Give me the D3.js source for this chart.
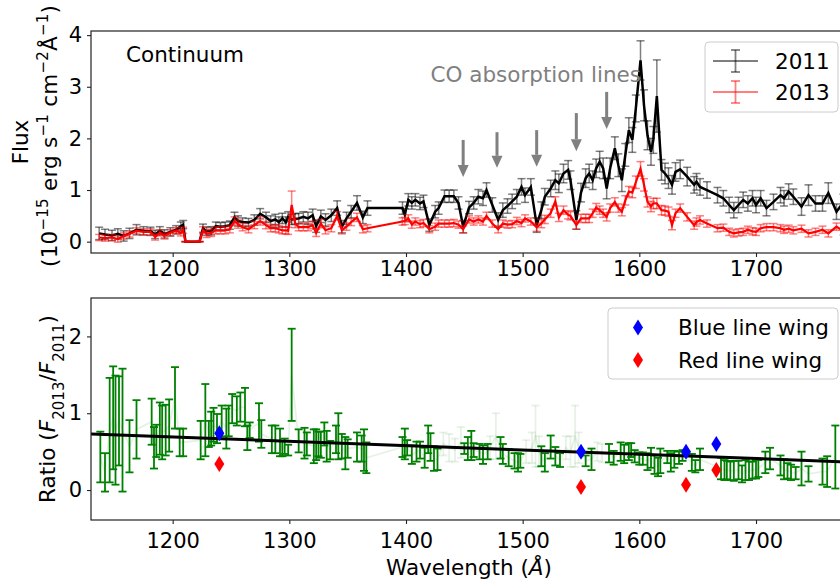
<!DOCTYPE html>
<html>
<head>
<meta charset="utf-8">
<script src="https://cdn.jsdelivr.net/npm/d3@7"></script>
<style>
  body { margin: 0; background: #fff; }
  svg { display: block; font-family: "DejaVu Sans", sans-serif; }
</style>
</head>
<body>
<svg id="chart" width="840" height="579"></svg>
<script>
// ---- data ----
var wave = [1137,1142,1148,1153,1158,1163,1169,1175,1181,1185,
  1189,1193,1198,1203,1207,1209,1211,1223,1226,1229,
  1233,1237,1241,1245,1249,1253,1256,1260,1265,1270,
  1275,1280,1284,1288,1291,1294,1297,1299,1302,1305,
  1308,1312,1316,1320,1323,1327,1331,1336,1341,1345,
  1349,1353,1358,1363,1367,1397,1399,1402,1405,1408,
  1412,1415,1420,1425,1428,1433,1437,1441,1445,1449,
  1454,1458,1462,1466,1469,1474,1479,1483,1487,1491,
  1495,1499,1502,1507,1512,1516,1519,1524,1528,1531,
  1535,1539,1541,1546,1550,1554,1557,1560,1563,1566,
  1569,1572,1575,1579,1582,1585,1588,1591,1594,1597,
  1601,1604,1607,1610,1612,1615,1619,1622,1625,1628,
  1631,1635,1641,1647,1649,1652,1658,1667,1672,1677,
  1681,1685,1689,1693,1697,1700,1704,1709,1715,1721,
  1724,1728,1732,1739,1745,1751,1757,1762,1769,1775];

var flux2011 = [0.16,0.14,0.12,0.15,0.11,0.16,0.23,0.21,0.20,0.14,
  0.21,0.15,0.19,0.23,0.30,0.33,0,0,0.26,0.20,
  0.21,0.30,0.29,0.30,0.32,0.47,0.40,0.38,0.37,0.42,
  0.54,0.47,0.40,0.43,0.38,0.45,0.38,0.48,0.43,0.44,
  0.45,0.48,0.45,0.51,0.30,0.49,0.42,0.51,0.65,0.29,
  0.45,0.58,0.75,0.47,0.65,0.65,0.52,0.81,0.75,0.81,
  0.74,0.78,0.32,0.58,0.65,0.88,0.88,0.88,0.75,0.29,
  0.66,0.75,0.87,0.84,1.00,0.71,0.42,0.61,0.69,0.78,
  0.87,1.06,0.90,1.06,0.32,0.61,0.87,1.03,1.19,1.13,
  1.32,1.39,1.19,0.42,0.95,1.23,1.32,1.19,1.42,1.55,
  1.42,1.03,1.42,1.81,1.48,1.19,1.68,2.16,1.97,2.58,
  3.51,2.64,2.06,1.74,1.97,2.82,1.39,1.32,1.23,1.10,
  1.35,1.40,1.26,1.10,1.16,1.06,1.00,0.90,0.84,0.71,
  0.61,0.71,0.81,0.74,0.84,0.71,0.84,0.65,0.77,0.90,
  0.84,0.97,0.87,0.68,0.90,0.74,0.74,0.94,0.58,0.77];

var err2011 = [0.12,0.10,0.10,0.10,0.10,0.10,0.10,0.08,0.08,0.08,
  0.08,0.08,0.08,0.08,0.08,0.08,0,0,0.08,0.08,
  0.08,0.08,0.08,0.08,0.08,0.10,0.10,0.08,0.08,0.10,
  0.10,0.10,0.10,0.10,0.10,0.10,0.10,0.10,0.10,0.10,
  0.10,0.10,0.12,0.12,0.12,0.12,0.12,0.12,0.14,0.12,
  0.12,0.12,0.14,0.12,0.14,0.12,0.12,0.12,0.12,0.12,
  0.12,0.12,0.12,0.12,0.12,0.12,0.12,0.12,0.12,0.12,
  0.12,0.12,0.14,0.14,0.14,0.14,0.14,0.14,0.14,0.14,
  0.14,0.16,0.14,0.16,0.14,0.16,0.16,0.16,0.18,0.18,
  0.18,0.18,0.18,0.18,0.18,0.18,0.18,0.18,0.18,0.20,
  0.20,0.20,0.20,0.22,0.22,0.22,0.22,0.24,0.24,0.26,
  0.38,0.30,0.28,0.26,0.26,0.70,0.20,0.20,0.20,0.18,
  0.18,0.18,0.18,0.16,0.16,0.16,0.16,0.15,0.15,0.15,
  0.15,0.15,0.15,0.15,0.15,0.15,0.15,0.15,0.15,0.15,
  0.15,0.15,0.15,0.17,0.20,0.15,0.15,0.20,0.15,0.15];

var flux2013 = [0.08,0.07,0.08,0.05,0.11,0.15,0.21,0.19,0.19,0.09,
  0.17,0.11,0.17,0.21,0.17,0.22,0,0,0.22,0.15,
  0.17,0.22,0.22,0.22,0.24,0.40,0.34,0.28,0.24,0.32,
  0.40,0.32,0.26,0.26,0.24,0.22,0.22,0.21,0.71,0.35,
  0.28,0.28,0.28,0.32,0.17,0.35,0.22,0.26,0.50,0.22,
  0.29,0.38,0.47,0.24,0.26,0.39,0.40,0.45,0.33,0.39,
  0.34,0.36,0.24,0.29,0.35,0.35,0.35,0.36,0.33,0.24,
  0.43,0.39,0.43,0.39,0.50,0.35,0.24,0.35,0.33,0.34,
  0.40,0.36,0.45,0.39,0.28,0.35,0.43,0.55,0.78,0.47,
  0.61,0.52,0.50,0.32,0.45,0.45,0.45,0.55,0.66,0.61,
  0.55,0.48,0.65,0.77,0.65,0.58,0.80,0.97,0.95,1.15,
  1.41,1.10,0.77,0.68,0.74,0.74,0.61,0.60,0.58,0.32,
  0.55,0.65,0.48,0.32,0.38,0.42,0.35,0.26,0.27,0.19,
  0.16,0.18,0.19,0.23,0.20,0.19,0.26,0.28,0.28,0.26,
  0.23,0.25,0.22,0.25,0.16,0.19,0.23,0.16,0.29,0.20];

var err2013 = [0.06,0.06,0.06,0.06,0.06,0.06,0.06,0.06,0.06,0.06,
  0.06,0.06,0.06,0.06,0.06,0.06,0,0,0.07,0.07,
  0.07,0.07,0.07,0.07,0.07,0.08,0.08,0.07,0.07,0.07,
  0.08,0.07,0.07,0.07,0.07,0.07,0.07,0.07,0.27,0.08,
  0.07,0.07,0.07,0.07,0.07,0.08,0.07,0.07,0.08,0.07,
  0.07,0.07,0.08,0.07,0.07,0.07,0.07,0.07,0.07,0.07,
  0.07,0.07,0.07,0.07,0.07,0.07,0.07,0.07,0.07,0.07,
  0.07,0.07,0.07,0.07,0.07,0.07,0.07,0.07,0.07,0.07,
  0.07,0.07,0.07,0.07,0.08,0.08,0.08,0.08,0.09,0.08,
  0.08,0.08,0.08,0.08,0.08,0.08,0.08,0.08,0.08,0.08,
  0.08,0.08,0.08,0.08,0.08,0.08,0.09,0.10,0.10,0.12,
  0.14,0.12,0.10,0.10,0.10,0.10,0.09,0.09,0.09,0.09,
  0.08,0.08,0.08,0.08,0.08,0.08,0.07,0.07,0.07,0.07,
  0.07,0.07,0.07,0.07,0.07,0.07,0.07,0.07,0.07,0.07,
  0.07,0.07,0.07,0.07,0.07,0.07,0.07,0.07,0.07,0.07];

// ratio F2013/F2011 (points kept in the fit)
var ratioWave = [1138,1142,1146,1149,1151,1154,1157,1163,1169,1182,
  1184,1186,1189,1191,1194,1197,1202,1206,1209,1224,
  1228,1231,1233,1235,1238,1242,1246,1248,1251,1255,
  1258,1262,1264,1266,1274,1276,1285,1288,1292,1294,
  1296,1299,1302,1308,1313,1315,1321,1323,1325,1327,
  1330,1332,1335,1340,1342,1345,1348,1350,1358,1362,
  1364,1366,1397,1399,1401,1405,1409,1412,1416,1419,
  1421,1424,1427,1450,1453,1456,1458,1463,1466,1470,
  1481,1483,1488,1493,1496,1498,1516,1519,1524,1528,
  1532,1554,1559,1574,1578,1584,1587,1591,1593,1596,
  1600,1603,1607,1610,1613,1616,1618,1624,1627,1630,
  1634,1637,1645,1648,1652,1670,1673,1675,1678,1681,
  1685,1688,1691,1694,1697,1700,1702,1708,1712,1721,
  1724,1727,1730,1734,1739,1745,1757,1761,1768];
var ratioVal = [0.43,0.23,0.78,0.94,0.78,0.90,0.78,0.57,0.79,0.89,
  0.55,0.64,0.80,0.75,0.78,0.84,1.20,0.62,0.62,0.65,
  0.91,0.73,0.80,0.85,0.80,0.90,0.80,0.90,1.06,1.03,
  1.08,1.08,0.68,0.78,0.88,0.73,0.66,0.66,0.62,0.54,
  0.57,0.52,1.50,0.64,0.61,0.60,0.57,0.59,0.60,0.59,
  0.73,0.57,0.52,0.66,0.70,0.57,0.48,0.54,0.56,0.54,
  0.52,0.42,0.56,0.60,0.55,0.46,0.50,0.52,0.42,0.66,
  0.56,0.41,0.40,0.54,0.54,0.58,0.52,0.50,0.46,0.50,
  0.55,0.47,0.42,0.38,0.36,0.38,0.44,0.36,0.56,0.44,
  0.39,0.38,0.40,0.48,0.42,0.50,0.47,0.50,0.52,0.44,
  0.41,0.41,0.37,0.42,0.33,0.30,0.38,0.43,0.36,0.40,
  0.42,0.45,0.36,0.31,0.40,0.28,0.26,0.26,0.25,0.25,
  0.26,0.21,0.26,0.25,0.26,0.27,0.28,0.36,0.41,0.32,
  0.27,0.25,0.23,0.22,0.28,0.21,0.24,0.24,0.43];
var ratioErr = [0.33,0.25,0.68,0.67,0.71,0.58,0.80,0.34,0.38,0.30,
  0.27,0.21,0.34,0.35,0.33,0.34,0.40,0.18,0.18,0.25,
  0.47,0.17,0.22,0.22,0.19,0.20,0.26,0.20,0.19,0.19,
  0.19,0.25,0.16,0.10,0.25,0.18,0.18,0.18,0.18,0.10,
  0.10,0.07,0.60,0.15,0.20,0.15,0.22,0.20,0.16,0.17,
  0.15,0.20,0.12,0.18,0.30,0.16,0.21,0.12,0.19,0.17,
  0.27,0.20,0.13,0.20,0.10,0.12,0.13,0.11,0.13,0.18,
  0.18,0.16,0.14,0.07,0.15,0.19,0.09,0.10,0.12,0.10,
  0.14,0.13,0.11,0.10,0.12,0.09,0.13,0.12,0.15,0.12,
  0.09,0.07,0.14,0.12,0.09,0.12,0.12,0.11,0.09,0.08,
  0.08,0.08,0.11,0.13,0.12,0.12,0.16,0.08,0.12,0.11,
  0.08,0.07,0.11,0.08,0.14,0.14,0.13,0.12,0.12,0.13,
  0.12,0.11,0.13,0.12,0.11,0.12,0.11,0.14,0.14,0.13,
  0.13,0.10,0.10,0.08,0.22,0.10,0.17,0.20,0.41];

// ratio points masked out (CO line regions), drawn faint
var maskedWave = [1432,1437,1442,1447,1472,1477,1503,1508,1511,1514,1537,1541,1545,1548,1564,1568];
var maskedVal  = [0.60,0.55,0.52,0.62,0.55,0.70,0.50,0.55,0.70,0.50,0.55,0.50,0.70,0.55,0.50,0.48];
var maskedErr  = [0.15,0.18,0.15,0.20,0.15,0.30,0.15,0.20,0.40,0.20,0.15,0.20,0.40,0.20,0.12,0.12];

// linear fit to the ratio
var fitWave = [1130, 1780];
var fitRatio = [0.73, 0.365];

// emission line wings
var wingWave = [1240, 1550, 1640, 1666];
var blueWing = [0.74, 0.50, 0.50, 0.60];
var redWing  = [0.34, 0.04, 0.07, 0.26];

// CO absorption arrows
var coWave   = [1449, 1478, 1512, 1546, 1572];
var coTop    = [1.97, 2.12, 2.16, 2.49, 2.90];
var coBottom = [1.25, 1.43, 1.45, 1.75, 2.18];

var xTicks = [1200, 1300, 1400, 1500, 1600, 1700];
var yTicksTop = [0, 1, 2, 3, 4];
var yTicksBot = [0, 1, 2];

// ---- layout ----
var svg = d3.select("#chart");
var FS = 21.5;      // labels, legend, annotations
var TFS = 21;       // tick labels
var SFS = 15;       // super/subscripts
var left = 91, right = 847;

var x = d3.scaleLinear().domain([1130, 1778]).range([left, right]);
var yTop = d3.scaleLinear().domain([-0.22, 4.08]).range([253, 31]);
var yBot = d3.scaleLinear().domain([-0.39, 2.5]).range([520, 298]);

function zip(xs, ys) { return xs.map(function(v, i) { return [v, ys[i]]; }); }

function errorBars(g, yScale, xs, ys, es, color, opacity, width, cap) {
  var gg = g.append("g").attr("stroke", color).attr("stroke-opacity", opacity)
      .attr("stroke-width", width).attr("fill", "none");
  xs.forEach(function(xv, i) {
    var px = x(xv), y0 = yScale(ys[i] - es[i]), y1 = yScale(ys[i] + es[i]);
    gg.append("line").attr("x1", px).attr("x2", px).attr("y1", y0).attr("y2", y1);
    gg.append("line").attr("x1", px - cap).attr("x2", px + cap).attr("y1", y0).attr("y2", y0);
    gg.append("line").attr("x1", px - cap).attr("x2", px + cap).attr("y1", y1).attr("y2", y1);
  });
}

function styleAxis(sel) {
  sel.select(".domain").remove();
  sel.selectAll(".tick line").attr("stroke", "#222").attr("stroke-width", 1.1);
  sel.selectAll(".tick text").attr("fill", "#000")
      .style("font-family", "DejaVu Sans").style("font-size", TFS + "px");
}

function axes(yScale, y0, y1, yTicks, xPad) {
  var g = svg.append("g");
  g.append("g")
      .attr("transform", "translate(0," + y1 + ")")
      .call(d3.axisBottom(x).tickValues(xTicks).tickFormat(d3.format("d"))
        .tickSizeOuter(0).tickSize(4).tickPadding(xPad))
      .call(styleAxis);
  g.append("g")
      .attr("transform", "translate(" + left + ",0)")
      .call(d3.axisLeft(yScale).tickValues(yTicks).tickFormat(d3.format("d"))
        .tickSizeOuter(0).tickSize(4).tickPadding(5))
      .call(styleAxis);
  g.append("rect").attr("x", left).attr("y", y0)
      .attr("width", right - left).attr("height", y1 - y0)
      .attr("fill", "none").attr("stroke", "#222").attr("stroke-width", 1.2);
}

var defs = svg.append("defs");
defs.append("clipPath").attr("id", "clipTop")
  .append("rect").attr("x", left).attr("y", 31).attr("width", right - left).attr("height", 222);
defs.append("clipPath").attr("id", "clipBot")
  .append("rect").attr("x", left).attr("y", 298).attr("width", right - left).attr("height", 222);

var line = d3.line().x(function(d) { return x(d[0]); });

// ---- top panel ----
var fluxPanel = svg.append("g").attr("clip-path", "url(#clipTop)");

errorBars(fluxPanel, yTop, wave, flux2011, err2011, "#000", 0.5, 1.5, 4);
fluxPanel.append("path").datum(zip(wave, flux2011))
    .attr("d", line.y(function(d) { return yTop(d[1]); }))
    .attr("fill", "none").attr("stroke", "#000").attr("stroke-width", 2.5);
errorBars(fluxPanel, yTop, wave, flux2013, err2013, "red", 0.5, 1.5, 4);
fluxPanel.append("path").datum(zip(wave, flux2013))
    .attr("d", line.y(function(d) { return yTop(d[1]); }))
    .attr("fill", "none").attr("stroke", "red").attr("stroke-width", 2.2);

// arrows
coWave.forEach(function(w, i) {
  var px = x(w), y0 = yTop(coTop[i]), y1 = yTop(coBottom[i]);
  var head = 12;
  fluxPanel.append("line").attr("x1", px).attr("x2", px).attr("y1", y0).attr("y2", y1 - head)
      .attr("stroke", "#808080").attr("stroke-width", 3);
  fluxPanel.append("path")
      .attr("d", "M" + (px - 5.5) + "," + (y1 - head) + "L" + (px + 5.5) + "," + (y1 - head) + "L" + px + "," + y1 + "Z")
      .attr("fill", "#808080");
});

axes(yTop, 31, 253, yTicksTop, 4);

svg.append("text").attr("x", 126).attr("y", 62).attr("font-size", FS).text("Continuum");
svg.append("text").attr("x", x(1421)).attr("y", 82).attr("font-size", FS)
    .attr("fill", "#808080").text("CO absorption lines");

// legend (top)
var lg = svg.append("g");
lg.append("rect").attr("x", 705).attr("y", 42).attr("width", 133).attr("height", 70)
    .attr("rx", 4).attr("fill", "#fff").attr("fill-opacity", 0.8).attr("stroke", "#ccc");
[["2011", "#000"], ["2013", "red"]].forEach(function(d, i) {
  var cy = 61 + i * 31;
  var e = lg.append("g").attr("stroke", d[1]).attr("stroke-opacity", 0.5).attr("stroke-width", 1.8);
  e.append("line").attr("x1", 713).attr("x2", 758).attr("y1", cy).attr("y2", cy);
  e.append("line").attr("x1", 735.5).attr("x2", 735.5).attr("y1", cy - 11).attr("y2", cy + 11);
  e.append("line").attr("x1", 731).attr("x2", 740).attr("y1", cy - 11).attr("y2", cy - 11);
  e.append("line").attr("x1", 731).attr("x2", 740).attr("y1", cy + 11).attr("y2", cy + 11);
  lg.append("text").attr("x", 775).attr("y", cy + 7.5).attr("font-size", FS).text(d[0]);
});

// ---- bottom panel ----
var ratioPanel = svg.append("g").attr("clip-path", "url(#clipBot)");

var allRatio = zip(ratioWave.concat(maskedWave), ratioVal.concat(maskedVal))
    .sort(function(a, b) { return a[0] - b[0]; });
ratioPanel.append("path").datum(allRatio)
    .attr("d", line.y(function(d) { return yBot(d[1]); }))
    .attr("fill", "none").attr("stroke", "green").attr("stroke-opacity", 0.1).attr("stroke-width", 1.8);
errorBars(ratioPanel, yBot, maskedWave, maskedVal, maskedErr, "green", 0.1, 1.8, 4);
errorBars(ratioPanel, yBot, ratioWave, ratioVal, ratioErr, "green", 1, 1.8, 4);

ratioPanel.append("path").datum(zip(fitWave, fitRatio))
    .attr("d", line.y(function(d) { return yBot(d[1]); }))
    .attr("fill", "none").attr("stroke", "#000").attr("stroke-width", 3);

function diamond(g, cx, cy, color) {
  g.append("path").attr("d", "M" + cx + "," + (cy - 8) + "L" + (cx + 5) + "," + cy +
      "L" + cx + "," + (cy + 8) + "L" + (cx - 5) + "," + cy + "Z").attr("fill", color);
}
wingWave.forEach(function(w, i) {
  diamond(ratioPanel, x(w), yBot(blueWing[i]), "blue");
  diamond(ratioPanel, x(w), yBot(redWing[i]), "red");
});

axes(yBot, 298, 520, yTicksBot, 9);

// legend (bottom)
var lb = svg.append("g");
lb.append("rect").attr("x", 608).attr("y", 308).attr("width", 230).attr("height", 71)
    .attr("rx", 4).attr("fill", "#fff").attr("fill-opacity", 0.8).attr("stroke", "#ccc");
[["Blue line wing", "blue"], ["Red line wing", "red"]].forEach(function(d, i) {
  var cy = 327.5 + i * 32.5;
  diamond(lb, 638, cy, d[1]);
  lb.append("text").attr("x", 678).attr("y", cy + 7.5).attr("font-size", FS).text(d[0]);
});

// ---- axis labels ----
svg.append("text").attr("transform", "translate(28,142) rotate(-90)")
    .attr("text-anchor", "middle").attr("font-size", FS).text("Flux");
var yl2 = svg.append("text").attr("transform", "translate(57,136) rotate(-90)")
    .attr("text-anchor", "middle").attr("font-size", FS)
    .attr("textLength", 262).attr("lengthAdjust", "spacing");
yl2.append("tspan").text("(10");
yl2.append("tspan").attr("baseline-shift", "super").attr("font-size", SFS).text("\u221215");
yl2.append("tspan").text(" erg s");
yl2.append("tspan").attr("baseline-shift", "super").attr("font-size", SFS).text("\u22121");
yl2.append("tspan").text(" cm");
yl2.append("tspan").attr("baseline-shift", "super").attr("font-size", SFS).text("\u22122");
yl2.append("tspan").text("\u00c5");
yl2.append("tspan").attr("baseline-shift", "super").attr("font-size", SFS).text("\u22121");
yl2.append("tspan").text(")");

var rl = svg.append("text").attr("transform", "translate(55,409) rotate(-90)")
    .attr("text-anchor", "middle").attr("font-size", FS)
    .attr("textLength", 188).attr("lengthAdjust", "spacing");
rl.append("tspan").text("Ratio (");
rl.append("tspan").attr("font-style", "italic").text("F");
rl.append("tspan").attr("baseline-shift", "sub").attr("font-size", SFS).text("2013");
rl.append("tspan").text("/");
rl.append("tspan").attr("font-style", "italic").text("F");
rl.append("tspan").attr("baseline-shift", "sub").attr("font-size", SFS).text("2011");
rl.append("tspan").text(")");

var xl = svg.append("text").attr("x", 469).attr("y", 575)
    .attr("text-anchor", "middle").attr("font-size", FS);
xl.append("tspan").text("Wavelength (");
xl.append("tspan").attr("font-style", "italic").text("\u00c5");
xl.append("tspan").text(")");
</script>
</body>
</html>
